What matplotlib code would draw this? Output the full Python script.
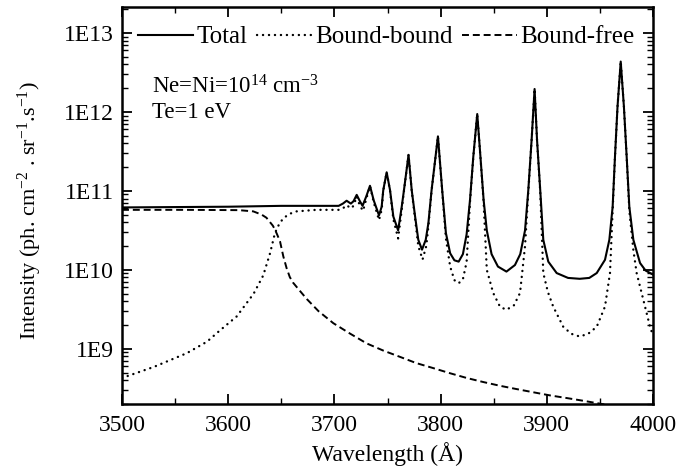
import matplotlib
matplotlib.use("Agg")
import matplotlib.pyplot as plt
from matplotlib.ticker import FixedLocator, FixedFormatter, LogLocator, MultipleLocator, NullFormatter

plt.rcParams['font.family'] = ['Liberation Serif', 'DejaVu Serif']
plt.rcParams['mathtext.fontset'] = 'custom'
plt.rcParams['mathtext.rm'] = 'Liberation Serif'
plt.rcParams['mathtext.it'] = 'Liberation Serif:italic'
plt.rcParams['lines.scale_dashes'] = False

# ---- data ----
total_wl = [3500, 3600, 3650, 3704, 3708, 3711.5, 3715.5, 3718, 3721, 3724, 3726.5, 3730, 3733.5,
            3737, 3742, 3744.5, 3746, 3749.2, 3752.4, 3755.5, 3760, 3763.4, 3765.5, 3769.8, 3772.8,
            3776, 3779, 3782.5, 3786, 3788.5, 3791.5, 3797.5, 3801.5, 3805, 3809, 3813, 3817, 3821,
            3824.5, 3827.7, 3830.8, 3834.5, 3837.5, 3840.5, 3843.5, 3848, 3854, 3862, 3870, 3875,
            3879.5, 3882.6, 3885.7, 3888.5, 3890.8, 3893.8, 3896.7, 3901.4, 3909.3, 3920, 3931,
            3940, 3947, 3954.8, 3958.9, 3962, 3964.2, 3966.6, 3969.6, 3972.6, 3975.2, 3977.7,
            3981.5, 3987.8, 3993, 4000]
total_int = [6.17e10, 6.3e10, 6.46e10, 6.46e10, 6.9e10, 7.5e10, 6.9e10, 7.4e10, 8.9e10, 7.4e10,
             6.46e10, 8.5e10, 1.16e11, 7.6e10, 4.9e10, 6.3e10, 1.02e11, 1.72e11, 1.02e11, 4.73e10,
             3.16e10, 6.3e10, 1.02e11, 2.86e11, 1.02e11, 4.73e10, 2.4e10, 1.8e10, 2.4e10, 3.9e10,
             1.02e11, 4.9e11, 1.02e11, 2.92e10, 1.62e10, 1.32e10, 1.27e10, 1.58e10, 2.82e10, 7.7e10,
             2.72e11, 9.4e11, 2.72e11, 7.7e10, 3.16e10, 1.58e10, 1.1e10, 9.5e9, 1.15e10, 1.58e10,
             3.16e10, 1.03e11, 4.43e11, 1.95e12, 4.43e11, 1.03e11, 2.4e10, 1.27e10, 9.1e9, 7.9e9,
             7.7e9, 7.9e9, 9.1e9, 1.34e10, 2.4e10, 6.3e10, 2.72e11, 1.17e12, 4.34e12, 1.17e12,
             2.72e11, 6.3e10, 2.4e10, 1.22e10, 9.8e9, 8.7e9]

bb_wl = [3500, 3530, 3561, 3580, 3592, 3608, 3624, 3633, 3639.4, 3644, 3648, 3652, 3658, 3664.5,
         3683, 3705, 3708, 3711.5, 3715.5, 3718, 3721, 3724, 3727, 3730, 3733.5, 3737, 3742,
         3744.5, 3746, 3749.2, 3752.4, 3755.5, 3760, 3763.4, 3765.5, 3769.8, 3772.8, 3776, 3779,
         3783, 3786.5, 3788.5, 3791.5, 3797.5, 3801.5, 3805, 3809, 3813, 3817, 3821, 3824.5,
         3827.7, 3830.8, 3834.5, 3837.5, 3840.5, 3843.5, 3849.5, 3856, 3862, 3869, 3874.8, 3879.5,
         3882.6, 3885.7, 3888.5, 3890.8, 3893.8, 3896.7, 3901, 3906, 3915.5, 3923, 3931, 3939,
         3947, 3954.8, 3959.5, 3962, 3964.2, 3966.6, 3969.6, 3972.6, 3975.2, 3977.7, 3981.5,
         3984.6, 3990.9, 3997.2, 4000]
bb_int = [4.27e8, 5.9e8, 8.8e8, 1.23e9, 1.7e9, 2.57e9, 5.0e9, 8.5e9, 1.62e10, 2.92e10, 3.8e10,
          4.52e10, 5.13e10, 5.5e10, 5.75e10, 5.75e10, 6.0e10, 6.6e10, 6.0e10, 6.46e10, 8.5e10,
          6.46e10, 5.6e10, 7.9e10, 1.15e11, 7.2e10, 4.27e10, 5.75e10, 1.0e11, 1.72e11, 1.0e11,
          4.37e10, 2.5e10, 5.75e10, 1.0e11, 2.86e11, 1.0e11, 4.37e10, 2.0e10, 1.35e10, 2.0e10,
          3.55e10, 1.0e11, 4.9e11, 1.0e11, 2.5e10, 1.1e10, 7.4e9, 6.76e9, 7.6e9, 1.26e10, 7.2e10,
          2.7e11, 9.4e11, 2.7e11, 7.2e10, 1.0e10, 5.1e9, 3.4e9, 3.12e9, 3.55e9, 5.1e9, 2.0e10,
          9.8e10, 4.37e11, 1.95e12, 4.37e11, 9.8e10, 9.1e9, 5.25e9, 3.43e9, 1.9e9, 1.55e9, 1.43e9,
          1.55e9, 1.9e9, 3.43e9, 9.1e9, 5.6e10, 2.7e11, 1.17e12, 4.34e12, 1.17e12, 2.7e11, 5.6e10,
          1.78e10, 9.1e9, 4.17e9, 1.9e9, 1.48e9]

bf_wl = [3500, 3560, 3610, 3623.6, 3631.5, 3636, 3639, 3642, 3644, 3646, 3648.8, 3651.9, 3655,
         3658, 3661, 3667.6, 3674, 3685, 3699, 3715, 3730.4, 3746, 3761.8, 3777, 3793, 3809,
         3824.6, 3840, 3856, 3871, 3887, 3903, 3918.7, 3935, 3950, 3965]
bf_int = [5.75e10, 5.75e10, 5.7e10, 5.5e10, 5.0e10, 4.57e10, 4.07e10, 3.63e10, 3.24e10, 2.82e10,
          2.29e10, 1.48e10, 1.05e10, 8.1e9, 6.9e9, 5.4e9, 4.27e9, 3.0e9, 2.11e9, 1.55e9, 1.17e9,
          9.5e8, 7.9e8, 6.6e8, 5.7e8, 4.9e8, 4.27e8, 3.8e8, 3.4e8, 3.1e8, 2.82e8, 2.57e8, 2.38e8,
          2.19e8, 2.02e8, 1.86e8]

series_labels = ["Total", "Bound-bound", "Bound-free"]
x_ticks = [3500, 3600, 3700, 3800, 3900, 4000]
x_ticklabels = ["3500", "3600", "3700", "3800", "3900", "4000"]
y_ticks = [1e9, 1e10, 1e11, 1e12, 1e13]
y_ticklabels = ["1E9", "1E10", "1E11", "1E12", "1E13"]

# ---- figure ----
fig = plt.figure(figsize=(6.79, 4.74), dpi=100)
ax = fig.add_axes([122/679, 1-404/474, (653-122)/679, (404-7)/474])

ax.plot(total_wl, total_int, color='black', lw=1.5, ls='-', label=series_labels[0])
ax.plot(bb_wl, bb_int, color='black', lw=1.7, ls=(0, (0.1, 4.2)), dash_capstyle='round',
        label=series_labels[1])
ax.plot(bf_wl, bf_int, color='black', lw=1.4, ls=(0, (5.0, 2.8)), label=series_labels[2])

ax.set_yscale('log')
ax.set_xlim(3500, 4000)
ax.set_ylim(2.0e8, 2.13e13)

ax.xaxis.set_major_locator(FixedLocator(x_ticks))
ax.xaxis.set_major_formatter(FixedFormatter(x_ticklabels))
ax.xaxis.set_minor_locator(MultipleLocator(50))
ax.yaxis.set_major_locator(FixedLocator(y_ticks))
ax.yaxis.set_major_formatter(FixedFormatter(y_ticklabels))
ax.yaxis.set_minor_locator(LogLocator(base=10, subs=[2, 3, 4, 5, 6, 7, 8, 9], numticks=20))
ax.yaxis.set_minor_formatter(NullFormatter())

ax.tick_params(which='both', direction='in', top=True, right=True, labelsize=17)
ax.tick_params(which='major', length=7, width=1.3)
ax.tick_params(which='minor', length=4, width=1.0)
ax.tick_params(axis='x', which='major', pad=8)
ax.tick_params(axis='y', which='major', pad=6)
for s in ax.spines.values():
    s.set_linewidth(1.8)

ax.set_xlabel("Wavelength (Å)", fontsize=17, labelpad=4)
ax.set_ylabel(r"Intensity (ph. cm$^{-2}$ . sr$^{-1}$.s$^{-1}$)", fontsize=16)
ax.yaxis.set_label_coords(-0.147, 0.486)

ax.legend(loc='upper left', bbox_to_anchor=(-0.005, 1.0), ncol=3, frameon=False, fontsize=18,
          handlelength=2.2, handletextpad=0.15, columnspacing=0.35, borderaxespad=0.35)

ax.text(0.057, 0.80, r"Ne=Ni=10$^{14}$ cm$^{-3}$", transform=ax.transAxes, fontsize=16.5,
        va='center', ha='left')
ax.text(0.057, 0.735, "Te=1 eV", transform=ax.transAxes, fontsize=16.5, va='center', ha='left')

fig.savefig("out.png", dpi=100)
